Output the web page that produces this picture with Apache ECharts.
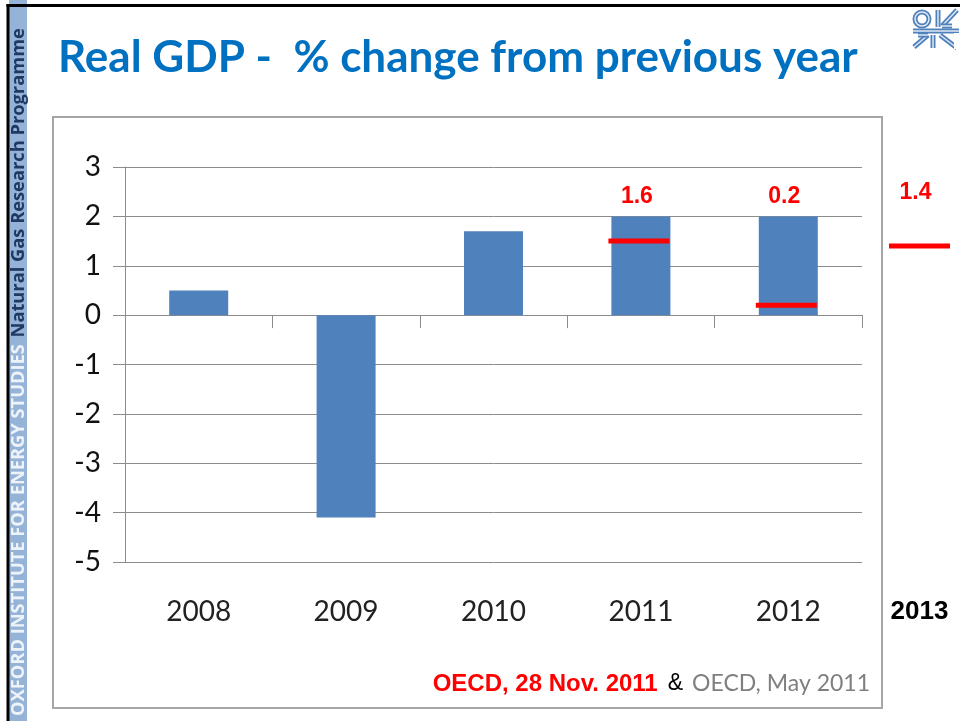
<!DOCTYPE html>
<html>
<head>
<meta charset="utf-8">
<script src="https://cdn.jsdelivr.net/npm/echarts@6/dist/echarts.min.js"></script>
<style>
html,body{margin:0;padding:0;background:#fff;}
#c{width:960px;height:721px;}
</style>
</head>
<body>
<div id="c"></div>
<script>
// ---- data ----
var categories = ['2008', '2009', '2010', '2011', '2012'];
var gdpMay2011 = [0.5, -4.1, 1.7, 2.0, 2.0];          // OECD, May 2011 (bars)
var novCategories = ['2011', '2012'];
var gdpNov2011 = [1.5, 0.2];                           // OECD, 28 Nov. 2011 (red marks)
var novLabels = ['1.6', '0.2'];
var extraCategory = ['2013'];
var gdpNov2011_2013 = [1.4];
var extraLabels = ['1.4'];
var yTicks = [-5, -4, -3, -2, -1, 0, 1, 2, 3];

var chart = echarts.init(document.getElementById('c'), null, {renderer: 'canvas'});

var gray = '#8c8c8c';
var lineW = 61, lineH = 5;

var option = {
  animation: false,
  backgroundColor: '#fff',
  grid: [
    {left: 125, right: 98, top: 167, bottom: 159},
    {left: 889, right: 10, top: 167, bottom: 159}
  ],
  xAxis: [
    {
      type: 'category', gridIndex: 0, data: categories,
      axisLine: {onZero: true, lineStyle: {color: gray, width: 1}},
      axisTick: {show: true, length: 13, lineStyle: {color: gray}},
      axisLabel: {show: false},
      splitLine: {show: false}
    },
    {
      type: 'category', gridIndex: 0, data: categories, position: 'bottom',
      axisLine: {show: false, onZero: false},
      axisTick: {show: false},
      axisLabel: {show: true, margin: 36, fontFamily: 'Lato', fontSize: 28, color: '#222'}
    },
    {
      type: 'category', gridIndex: 1, data: extraCategory, position: 'bottom',
      axisLine: {show: false, onZero: false},
      axisTick: {show: false},
      axisLabel: {show: true, margin: 37, fontFamily: 'Liberation Sans', fontWeight: 'bold', fontSize: 26, color: '#000'}
    }
  ],
  yAxis: [
    {
      type: 'value', gridIndex: 0, min: yTicks[0], max: yTicks[yTicks.length - 1], interval: 1,
      axisLine: {show: true, lineStyle: {color: gray, width: 1}},
      axisTick: {show: true, length: 12, lineStyle: {color: gray}},
      splitLine: {show: true, lineStyle: {color: gray, width: 1}},
      axisLabel: {margin: 24, fontFamily: 'Lato', fontSize: 28, color: '#111'}
    },
    {
      type: 'value', gridIndex: 1, min: yTicks[0], max: yTicks[yTicks.length - 1], interval: 1,
      show: false
    }
  ],
  series: [
    {
      type: 'bar', xAxisIndex: 0, yAxisIndex: 0,
      data: gdpMay2011, barWidth: 59,
      itemStyle: {color: '#4f81bd'}
    },
    {
      type: 'scatter', xAxisIndex: 0, yAxisIndex: 0,
      data: novCategories.map(function (c, i) { return [c, gdpNov2011[i]]; }),
      symbol: 'rect', symbolSize: [lineW, lineH], symbolOffset: [-2, 0],
      itemStyle: {color: '#ff0000', opacity: 1}, z: 5
    },
    {
      type: 'scatter', xAxisIndex: 2, yAxisIndex: 1,
      data: extraCategory.map(function (c, i) { return [c, gdpNov2011_2013[i]]; }),
      symbol: 'rect', symbolSize: [lineW, lineH],
      itemStyle: {color: '#ff0000', opacity: 1}, z: 5
    }
  ]
};
chart.setOption(option);

// ---- decorations / annotations ----
var g = [];
// chart frame
g.push({type: 'rect', shape: {x: 53, y: 117, width: 829, height: 591}, style: {fill: 'none', stroke: '#a6a6a6', lineWidth: 2}, z: -1});
// left strip
g.push({type: 'rect', shape: {x: 9, y: 0, width: 18, height: 721}, style: {fill: '#95b3d7'}});
g.push({type: 'rect', shape: {x: 6.5, y: 4, width: 3, height: 717}, style: {fill: '#000'}});
g.push({type: 'rect', shape: {x: 6.5, y: 4, width: 954, height: 3}, style: {fill: '#000'}});
g.push({
  type: 'text', x: 18.5, y: 716, rotation: Math.PI / 2,
  style: {
    text: '{a|OXFORD INSTITUTE FOR ENERGY STUDIES}  {b|Natural Gas Research Programme}',
    textAlign: 'left', textVerticalAlign: 'middle',
    rich: {
      a: {fontFamily: 'Open Sans', fontWeight: 'bold', fontSize: 18.3, fill: '#eef3fa'},
      b: {fontFamily: 'Open Sans', fontWeight: 'bold', fontSize: 18.3, fill: '#1f3864'}
    }
  }
});
// title
g.push({
  type: 'text', x: 58, y: 58,
  style: {text: 'Real GDP -  % change from previous year', fontFamily: 'Lato', fontWeight: 'bold', fontSize: 44, fill: '#0070c0', textVerticalAlign: 'middle'}
});
// source
g.push({
  type: 'text', x: 870, y: 684,
  style: {
    text: '{r|OECD, 28 Nov. 2011}{k|&}{g|OECD, May 2011}',
    textAlign: 'right', textVerticalAlign: 'middle',
    rich: {
      r: {fontFamily: 'Liberation Sans', fontWeight: 'bold', fontSize: 24, fill: '#ff0000'},
      k: {fontFamily: 'Liberation Sans', fontSize: 23, fill: '#000', padding: [0, 9, 0, 10]},
      g: {fontFamily: 'Lato', fontSize: 23, fill: '#7f7f7f'}
    }
  }
});
// logo (approximate OIES mark)
var logoC = '#4f81bd';
function seg(x1, y1, x2, y2) {
  g.push({type: 'line', shape: {x1: x1, y1: y1, x2: x2, y2: y2}, style: {stroke: logoC, lineWidth: 5}});
  g.push({type: 'line', shape: {x1: x1, y1: y1, x2: x2, y2: y2}, style: {stroke: '#dfe8f4', lineWidth: 1.5}});
}
g.push({type: 'circle', shape: {cx: 922, cy: 19, r: 7}, style: {fill: 'none', stroke: logoC, lineWidth: 5}});
g.push({type: 'circle', shape: {cx: 922, cy: 19, r: 7}, style: {fill: 'none', stroke: '#dfe8f4', lineWidth: 1.5}});
seg(938, 10, 938, 27);
seg(957, 10, 942, 26);
seg(942, 26, 952, 26);
seg(913, 31, 959, 31);
seg(914, 47, 928, 35);
seg(918, 35, 928, 35);
seg(933, 35, 933, 48);
seg(940, 35, 957, 48);
g.push({type: 'rect', shape: {x: 954, y: 33, width: 6, height: 16}, style: {fill: '#fff'}});

// forecast value labels above the red marks
novCategories.forEach(function (c, i) {
  var px = chart.convertToPixel({xAxisIndex: 0}, c);
  g.push({type: 'text', x: px - 4, y: 197, style: {text: novLabels[i], fontFamily: 'Liberation Sans', fontWeight: 'bold', fontSize: 23, fill: '#ff0000', textAlign: 'center', textVerticalAlign: 'middle'}});
});
extraCategory.forEach(function (c, i) {
  var px = chart.convertToPixel({xAxisIndex: 2}, c);
  g.push({type: 'text', x: px - 4, y: 193, style: {text: extraLabels[i], fontFamily: 'Liberation Sans', fontWeight: 'bold', fontSize: 23, fill: '#ff0000', textAlign: 'center', textVerticalAlign: 'middle'}});
});
chart.setOption({graphic: g});
</script>
</body>
</html>
